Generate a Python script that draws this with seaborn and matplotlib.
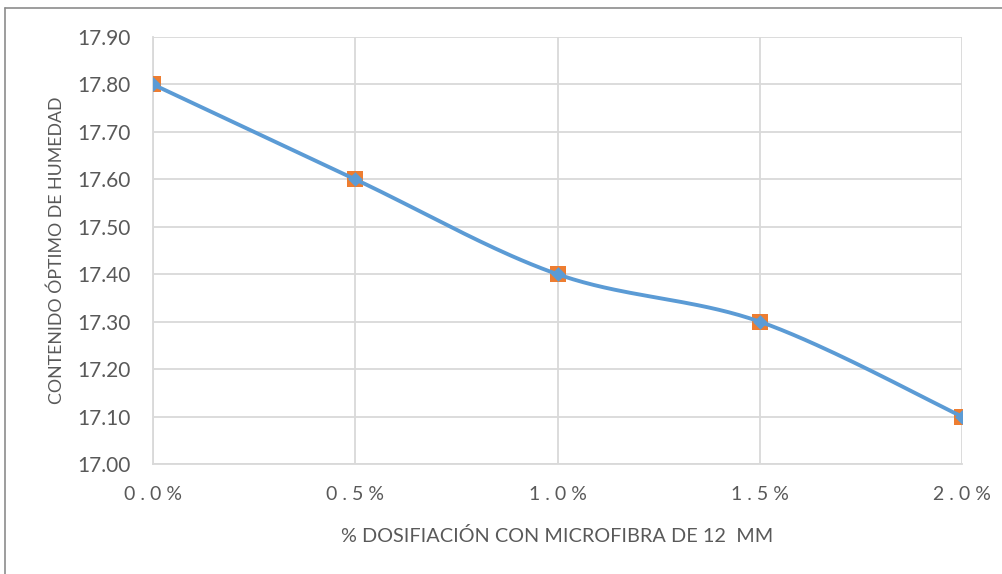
import numpy as np
import pandas as pd
import matplotlib
matplotlib.use("Agg")
import matplotlib.pyplot as plt
import seaborn as sns
from matplotlib.lines import Line2D

# Data
dosificacion = [0.0, 0.5, 1.0, 1.5, 2.0]          # % microfibra
dosis_labels = ["0.0%", "0.5%", "1.0%", "1.5%", "2.0%"]
humedad = [17.80, 17.60, 17.40, 17.30, 17.10]      # contenido óptimo de humedad
y_ticks = [17.00, 17.10, 17.20, 17.30, 17.40, 17.50, 17.60, 17.70, 17.80, 17.90]

sns.set_theme(style="white")
plt.rcParams["font.family"] = ["Lato", "DejaVu Sans"]

df = pd.DataFrame({"x": np.arange(len(dosificacion)), "y": humedad})


def smooth_curve(x, y, n=40):
    """Catmull-Rom style cubic Bezier smoothing through every point."""
    x = np.asarray(x, float)
    y = np.asarray(y, float)
    px, py = [], []
    t = np.linspace(0, 1, n)
    for i in range(len(x) - 1):
        x0, y0 = (x[i - 1], y[i - 1]) if i > 0 else (x[i], y[i])
        x3, y3 = (x[i + 2], y[i + 2]) if i + 2 < len(x) else (x[i + 1], y[i + 1])
        x1, y1 = x[i], y[i]
        x2, y2 = x[i + 1], y[i + 1]
        k = 1 / 6
        c1x, c1y = x1 + (x2 - x0) * k, y1 + (y2 - y0) * k
        c2x, c2y = x2 - (x3 - x1) * k, y2 - (y3 - y1) * k
        bx = ((1 - t) ** 3) * x1 + 3 * ((1 - t) ** 2) * t * c1x + 3 * (1 - t) * t ** 2 * c2x + t ** 3 * x2
        by = ((1 - t) ** 3) * y1 + 3 * ((1 - t) ** 2) * t * c1y + 3 * (1 - t) * t ** 2 * c2y + t ** 3 * y2
        px.extend(bx)
        py.extend(by)
    return np.array(px), np.array(py)


fig = plt.figure(figsize=(10.03, 5.74), dpi=100)
ax = fig.add_axes([153 / 1003, 1 - 464 / 574, (962 - 153) / 1003, (464 - 37) / 574])

blue = "#5B9BD5"
orange = "#ED7D31"

# Orange square markers
sns.scatterplot(data=df, x="x", y="y", marker="s", s=125, color=orange,
                edgecolor=orange, linewidth=0, ax=ax, zorder=3)

# Smoothed blue line with diamond markers
sx, sy = smooth_curve(df["x"], df["y"])
sns.lineplot(x=sx, y=sy, color=blue, linewidth=2.8, ax=ax, sort=False, zorder=4)
sns.scatterplot(data=df, x="x", y="y", marker="D", s=55, color=blue,
                edgecolor=blue, linewidth=0, ax=ax, zorder=5)

ax.set_xlim(0, len(dosificacion) - 1)
ax.set_ylim(17.00, 17.90)
ax.set_xticks(range(len(dosificacion)))
ax.set_xticklabels([" ".join(l) for l in dosis_labels])
ax.set_yticks(y_ticks)
ax.set_yticklabels([f"{v:.2f}" for v in y_ticks])

grid_c = "#D9D9D9"
ax.grid(True, color=grid_c, linewidth=1.3)
ax.set_axisbelow(True)
for side in ["top", "right"]:
    ax.spines[side].set_visible(False)
for side in ["left", "bottom"]:
    ax.spines[side].set_color(grid_c)
    ax.spines[side].set_linewidth(1.3)

ax.tick_params(axis="y", labelsize=15, colors="#595959", pad=16, length=0)
ax.tick_params(axis="x", labelsize=14, colors="#595959", pad=16, length=0)

ax.set_xlabel("% DOSIFIACIÓN CON MICROFIBRA DE 12  MM", fontsize=14.3, color="#595959", labelpad=17)
ax.set_ylabel("CONTENIDO ÓPTIMO DE HUMEDAD", fontsize=12.8, color="#595959", labelpad=9)

# Outer chart border (top and left edges)
fig.add_artist(Line2D([5 / 1003, 5 / 1003], [0, 1 - 8 / 574], transform=fig.transFigure,
                      color="#8C8C8C", linewidth=1.2))
fig.add_artist(Line2D([5 / 1003, 1], [1 - 8 / 574, 1 - 8 / 574], transform=fig.transFigure,
                      color="#8C8C8C", linewidth=1.2))

fig.savefig("out.png", dpi=100)
